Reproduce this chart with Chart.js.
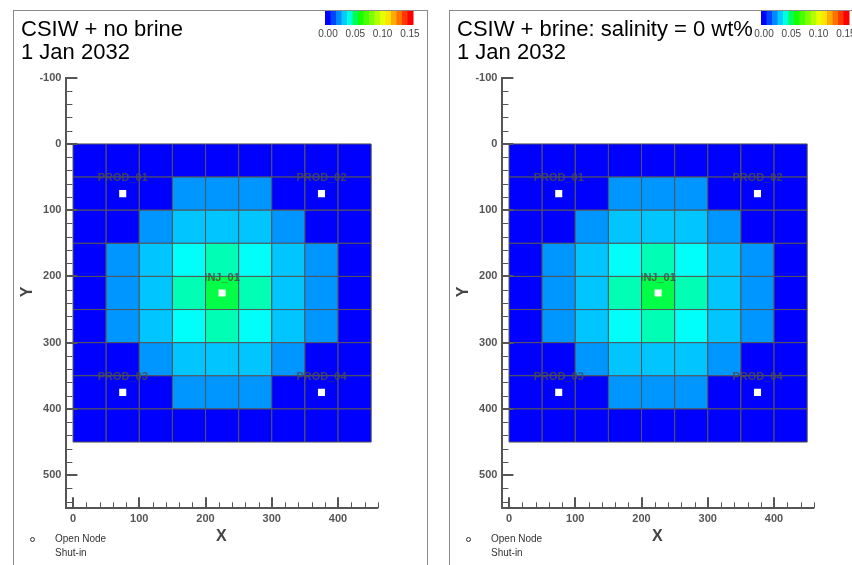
<!DOCTYPE html>
<html>
<head>
<meta charset="utf-8">
<script src="https://cdn.jsdelivr.net/npm/chart.js@4.4.1/dist/chart.umd.min.js"></script>
<style>
  body { margin: 0; width: 852px; height: 565px; overflow: hidden; background: #fff; position: relative; }
  .panel { position: absolute; top: 10px; width: 413px; height: 600px; border: 1px solid #8a8a8a;
           font-family: "Liberation Sans", Arial, sans-serif; }
  .panel canvas { position: absolute; left: 0; top: 0; }
  .title { position: absolute; left: 7px; top: 7px; font-size: 22px; line-height: 22.5px; color: #000; white-space: nowrap; }
  .ylab { position: absolute; left: 7px; top: 271px; width: 12px; height: 20px; font-weight: bold; font-size: 16px;
          color: #444; transform: rotate(-90deg); text-align: center; line-height: 20px; }
  .xlab { position: absolute; left: 202px; top: 515px; width: 12px; font-weight: bold; font-size: 16px; color: #444; line-height: 20px; }
  .leg { position: absolute; left: 41px; font-size: 10px; color: #333; line-height: 12px; }
  .dot { position: absolute; left: 16px; top: 526px; width: 3px; height: 3px; border: 1px solid #333; border-radius: 50%; }
</style>
</head>
<body>
<div class="panel" style="left:13px">
  <canvas id="c1" width="413" height="560"></canvas>
  <div class="title">CSIW + no brine<br>1 Jan 2032</div>
  <div class="ylab">Y</div>
  <div class="xlab">X</div>
  <div class="dot"></div>
  <div class="leg" style="top:522px">Open Node</div>
  <div class="leg" style="top:536px">Shut-in</div>
</div>
<div class="panel" style="left:449px">
  <canvas id="c2" width="413" height="560"></canvas>
  <div class="title">CSIW + brine: salinity = 0 wt%<br>1 Jan 2032</div>
  <div class="ylab">Y</div>
  <div class="xlab">X</div>
  <div class="dot"></div>
  <div class="leg" style="top:522px">Open Node</div>
  <div class="leg" style="top:536px">Shut-in</div>
</div>
<script>
// cell centres of the 9x9 grid (50 x 50 cells)
const cellSize = 50;
const xCenters = [25, 75, 125, 175, 225, 275, 325, 375, 425];
const yCenters = [25, 75, 125, 175, 225, 275, 325, 375, 425];

// cell values, one row per y centre (top to bottom)
const noBrineValues = [
  [0, 0, 0, 0, 0, 0, 0, 0, 0],
  [0, 0, 0, 0.022, 0.022, 0.022, 0, 0, 0],
  [0, 0, 0.022, 0.029, 0.029, 0.029, 0.022, 0, 0],
  [0, 0.022, 0.029, 0.038, 0.043, 0.038, 0.029, 0.022, 0],
  [0, 0.022, 0.029, 0.043, 0.051, 0.043, 0.029, 0.022, 0],
  [0, 0.022, 0.029, 0.038, 0.043, 0.038, 0.029, 0.022, 0],
  [0, 0, 0.022, 0.029, 0.029, 0.029, 0.022, 0, 0],
  [0, 0, 0, 0.022, 0.022, 0.022, 0, 0, 0],
  [0, 0, 0, 0, 0, 0, 0, 0, 0],
];
const brineValues = [
  [0, 0, 0, 0, 0, 0, 0, 0, 0],
  [0, 0, 0, 0.022, 0.022, 0.022, 0, 0, 0],
  [0, 0, 0.022, 0.029, 0.029, 0.029, 0.022, 0, 0],
  [0, 0.022, 0.029, 0.038, 0.043, 0.038, 0.029, 0.022, 0],
  [0, 0.022, 0.029, 0.043, 0.051, 0.043, 0.029, 0.022, 0],
  [0, 0.022, 0.029, 0.038, 0.043, 0.038, 0.029, 0.022, 0],
  [0, 0, 0.022, 0.029, 0.029, 0.029, 0.022, 0, 0],
  [0, 0, 0, 0.022, 0.022, 0.022, 0, 0, 0],
  [0, 0, 0, 0, 0, 0, 0, 0, 0],
];

// wells
const wellNames = ["PROD_01", "PROD_02", "PROD_03", "PROD_04", "INJ_01"];
const wellX = [75, 375, 75, 375, 225];
const wellY = [75, 75, 375, 375, 225];

// colour scale
const scaleMin = 0;
const scaleMax = 0.15;
const scaleLabels = ["0.00", "0.05", "0.10", "0.15"];
const cmapStops = [0, 0.25, 0.375, 0.7, 0.85, 1];
const cmapColors = [[0, 0, 255], [0, 255, 255], [0, 255, 0], [255, 255, 0], [255, 128, 0], [255, 0, 0]];
const nBands = 16;

function colorAt(t) {
  t = Math.max(0, Math.min(1, t));
  for (let i = 1; i < cmapStops.length; i++) {
    if (t <= cmapStops[i]) {
      const f = (t - cmapStops[i - 1]) / (cmapStops[i] - cmapStops[i - 1]);
      const a = cmapColors[i - 1], b = cmapColors[i];
      const c = a.map((v, k) => Math.round(v + (b[k] - v) * f));
      return `rgb(${c[0]},${c[1]},${c[2]})`;
    }
  }
  return "rgb(255,0,0)";
}
function colorFor(v) {
  return colorAt((v - scaleMin) / (scaleMax - scaleMin));
}

// inward tick marks, well labels and the colour bar
const decorPlugin = {
  id: "decor",
  afterDatasetsDraw(chart) {
    const ctx = chart.ctx;
    const meta = chart.getDatasetMeta(0);
    ctx.save();
    ctx.font = "bold 11px 'Liberation Sans', Arial, sans-serif";
    ctx.fillStyle = "rgba(75,75,75,0.85)";
    ctx.textAlign = "center";
    ctx.textBaseline = "middle";
    meta.data.forEach((pt, i) => {
      ctx.fillText(wellNames[i], pt.x, pt.y - 15.5);
    });
    ctx.restore();
  },
  afterDraw(chart) {
    const ctx = chart.ctx;
    const xs = chart.scales.x;
    const ys = chart.scales.y;
    const area = chart.chartArea;
    ctx.save();
    ctx.strokeStyle = "#555";
    ys.ticks.forEach((t) => {
      const y = Math.round(ys.getPixelForValue(t.value));
      const major = t.value % 100 === 0;
      ctx.lineWidth = major ? 2 : 1;
      ctx.beginPath();
      ctx.moveTo(area.left, y + (major ? 0 : 0.5));
      ctx.lineTo(area.left + (major ? 11 : 6), y + (major ? 0 : 0.5));
      ctx.stroke();
    });
    xs.ticks.forEach((t) => {
      const x = Math.round(xs.getPixelForValue(t.value));
      const major = t.value % 100 === 0;
      ctx.lineWidth = major ? 2 : 1;
      ctx.beginPath();
      ctx.moveTo(x + (major ? 0 : 0.5), area.bottom);
      ctx.lineTo(x + (major ? 0 : 0.5), area.bottom - (major ? 11 : 6));
      ctx.stroke();
    });

    // colour bar
    const bx = 311, bw = 88, by = 0, bh = 14;
    for (let k = 0; k < nBands; k++) {
      ctx.fillStyle = colorAt(k / (nBands - 1));
      const x0 = bx + (bw * k) / nBands;
      ctx.fillRect(x0, by, bw / nBands + 0.5, bh);
    }
    ctx.fillStyle = "#444";
    ctx.font = "10px 'Liberation Sans', Arial, sans-serif";
    ctx.textAlign = "center";
    ctx.textBaseline = "middle";
    scaleLabels.forEach((lab, i) => {
      ctx.fillText(lab, 314 + i * 27.3, 23);
    });
    ctx.restore();
  },
};

function buildCells(values) {
  const pts = [];
  yCenters.forEach((y, i) => {
    xCenters.forEach((x, j) => {
      pts.push({ x: x, y: y, v: values[i][j] });
    });
  });
  return pts;
}

function cellRadius(ctx) {
  const s = ctx.chart.scales.x;
  return Math.abs(s.getPixelForValue(cellSize) - s.getPixelForValue(0)) / Math.SQRT2;
}

const tickFont = { family: "'Liberation Sans', Arial, sans-serif", size: 11, weight: "bold" };

function makeChart(id, values) {
  const cells = buildCells(values);
  const wells = wellX.map((x, i) => ({ x: x, y: wellY[i] }));
  return new Chart(document.getElementById(id), {
    type: "scatter",
    data: {
      datasets: [
        {
          label: "Wells",
          data: wells,
          order: 0,
          pointStyle: "rect",
          pointRadius: 5,
          backgroundColor: "#fff",
          borderWidth: 0,
        },
        {
          label: "Cells",
          data: cells,
          order: 1,
          pointStyle: "rect",
          pointRadius: cellRadius,
          backgroundColor: (c) => colorFor(c.raw.v),
          borderColor: "#555",
          borderWidth: 1,
        },
      ],
    },
    options: {
      responsive: false,
      animation: false,
      events: [],
      layout: { padding: { left: 12.4, top: 66.7, right: 49.2, bottom: 42.7 } },
      plugins: { legend: { display: false }, tooltip: { enabled: false } },
      scales: {
        x: {
          type: "linear",
          position: "bottom",
          min: -10,
          max: 460,
          afterFit: (s) => { s.height = 20; },
          grid: { display: false, drawTicks: false },
          border: { display: true, width: 2, color: "#555" },
          ticks: {
            stepSize: 20,
            includeBounds: false,
            autoSkip: false,
            maxRotation: 0,
            padding: 4,
            color: "#555",
            font: tickFont,
            callback: (v) => (v % 100 === 0 ? v : ""),
          },
        },
        y: {
          type: "linear",
          position: "left",
          reverse: true,
          min: -100,
          max: 550,
          afterFit: (s) => { s.width = 40; },
          grid: { display: false, drawTicks: false },
          border: { display: true, width: 2, color: "#555" },
          ticks: {
            stepSize: 20,
            includeBounds: false,
            autoSkip: false,
            padding: 5,
            color: "#555",
            font: tickFont,
            callback: (v) => (v % 100 === 0 ? v : ""),
          },
        },
      },
    },
    plugins: [decorPlugin],
  });
}

makeChart("c1", noBrineValues);
makeChart("c2", brineValues);
</script>
</body>
</html>
